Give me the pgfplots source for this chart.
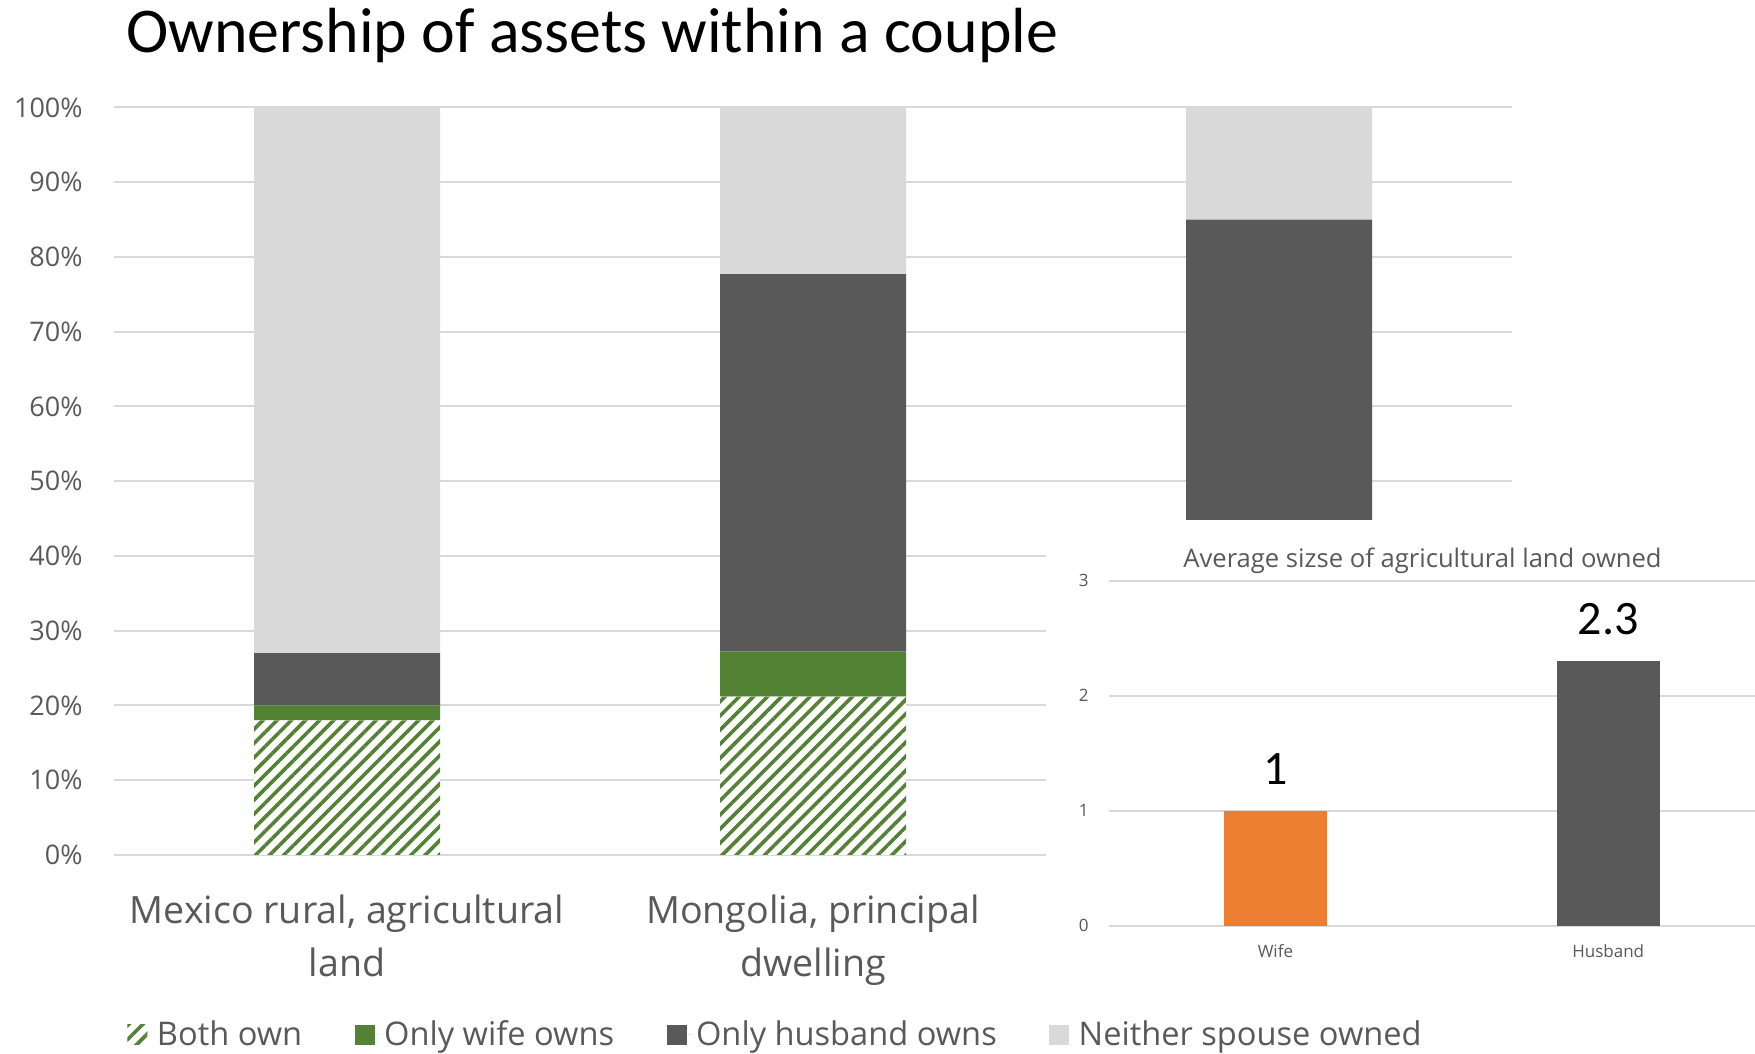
\documentclass[border=0pt]{standalone}
\usepackage{fontspec}
\setmainfont{Open Sans}
\newfontfamily\carlito{Carlito}
\usepackage{pgfplots}
\pgfplotsset{compat=1.18}
\usetikzlibrary{patterns.meta}
\definecolor{wgreen}{HTML}{548235}
\definecolor{dgray}{HTML}{595959}
\definecolor{lgray}{HTML}{D9D9D9}
\definecolor{worange}{HTML}{ED7D31}
\definecolor{txtgray}{HTML}{595959}
\definecolor{gridgray}{HTML}{D9D9D9}
\pgfplotsset{
  sq legend/.style={legend image code/.code={\fill[##1] (0pt,-5pt) rectangle (10pt,5pt); \path (0pt,0pt) -- (12.8pt,0pt);}},
}
\begin{document}
\begin{tikzpicture}
\useasboundingbox (0,0) rectangle (877.5pt,527pt);
\node[anchor=base west, inner sep=0pt, font=\carlito\fontsize{31.9}{38}\selectfont] at (63pt,500.8pt) {Ownership of assets within a couple};
\begin{axis}[
  at={(57pt,99.5pt)}, anchor=south west, scale only axis,
  width=699pt, height=373.75pt,
  ybar stacked, bar width=93pt,
  xmin=-0.5, xmax=2.5, ymin=0, ymax=100,
  axis line style={draw=none},
  ymajorgrids, grid style={gridgray, line width=1pt},
  major tick length=0pt, tick style={draw=none},
  xtick={0,1,2},
  xticklabels={{Mexico rural, agricultural\\land},{Mongolia, principal\\dwelling},{}},
  xticklabel style={align=center, anchor=north, inner sep=0pt, yshift=-20pt, font=\fontsize{18.8}{26.3}\selectfont, text=txtgray},
  ytick={0,10,20,30,40,50,60,70,80,90,100},
  yticklabels={0\%,10\%,20\%,30\%,40\%,50\%,60\%,70\%,80\%,90\%,100\%},
  yticklabel style={anchor=east, inner sep=0pt, xshift=-15.5pt, font=\fontsize{13.5}{16}\selectfont, text=txtgray},
  legend style={at={(axis description cs:0.0093,-0.2408)}, anchor=west, draw=none, fill=none, inner sep=0pt,
    font=\fontsize{16.3}{19}\selectfont, text=txtgray,
    /tikz/every even column/.append style={column sep=24.2pt}},
  legend columns=4,
]
\addplot[fill=white, draw=none, postaction={pattern={Lines[angle=45,distance=5pt,line width=1.8pt]}, pattern color=wgreen}, sq legend]
  coordinates {(0,18) (1,21.2) (2,15)};
\addplot[fill=wgreen, draw=none, sq legend] coordinates {(0,2) (1,6.0) (2,5)};
\addplot[fill=dgray, draw=none, sq legend] coordinates {(0,7) (1,50.5) (2,65)};
\addplot[fill=lgray, draw=none, sq legend] coordinates {(0,73) (1,22.3) (2,15)};
\legend{Both own, Only wife owns, Only husband owns, Neither spouse owned}
\end{axis}
\fill[white] (523pt,34.5pt) rectangle (877.5pt,267pt);
\node[anchor=base, inner sep=0pt, font=\fontsize{12.8}{15}\selectfont, text=txtgray] at (711.25pt,243pt) {Average sizse of agricultural land owned};
\begin{axis}[
  at={(554.5pt,64.15pt)}, anchor=south west, scale only axis,
  width=323pt, height=172.5pt,
  ybar, bar width=51.5pt, bar shift=0pt,
  xmin=-0.5, xmax=1.441, ymin=0, ymax=3,
  axis line style={draw=none},
  ymajorgrids, grid style={gridgray, line width=1pt},
  major tick length=0pt, tick style={draw=none},
  xtick={0,1}, xticklabels={Wife,Husband},
  xticklabel style={anchor=base, inner sep=0pt, yshift=-16pt, font=\fontsize{8.5}{10}\selectfont, text=txtgray},
  ytick={0,1,2,3}, yticklabels={0,1,2,3},
  yticklabel style={anchor=east, inner sep=0pt, xshift=-10pt, font=\fontsize{8.5}{10}\selectfont, text=txtgray},
  point meta=explicit symbolic,
  nodes near coords,
  every node near coord/.append style={font=\carlito\fontsize{24}{28}\selectfont, text=black, anchor=south, inner sep=0pt, yshift=13pt},
]
\addplot[fill=worange, draw=none] coordinates {(0,1) [1]};
\addplot[fill=dgray, draw=none] coordinates {(1,2.3) [2.3]};
\end{axis}
\end{tikzpicture}
\end{document}
